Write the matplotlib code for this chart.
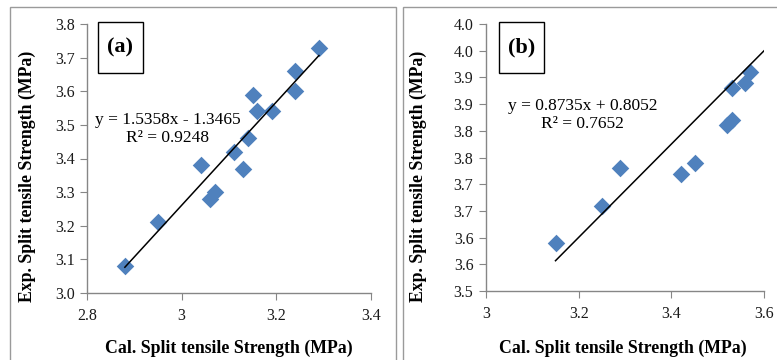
import numpy as np
import matplotlib
matplotlib.use("Agg")
import matplotlib.pyplot as plt
from matplotlib.patches import Rectangle

# ---------------- DATA ----------------
# panel (a)
cal_a = [2.88, 2.95, 3.04, 3.06, 3.07, 3.11, 3.13, 3.14, 3.15, 3.16, 3.19, 3.24, 3.24, 3.29]
exp_a = [3.08, 3.21, 3.38, 3.28, 3.30, 3.42, 3.37, 3.46, 3.59, 3.54, 3.54, 3.66, 3.60, 3.73]
slope_a, icpt_a = 1.5358, -1.3465
eq_a = "y = 1.5358x - 1.3465\nR² = 0.9248"
xticks_a = [2.8, 3.0, 3.2, 3.4]
xtl_a = ["2.8", "3", "3.2", "3.4"]
yticks_a = [3.0, 3.1, 3.2, 3.3, 3.4, 3.5, 3.6, 3.7, 3.8]
ytl_a = ["3.0", "3.1", "3.2", "3.3", "3.4", "3.5", "3.6", "3.7", "3.8"]

# panel (b)
cal_b = [3.15, 3.25, 3.29, 3.42, 3.45, 3.52, 3.53, 3.53, 3.56, 3.57]
exp_b = [3.59, 3.66, 3.73, 3.72, 3.74, 3.81, 3.82, 3.88, 3.89, 3.91]
slope_b, icpt_b = 0.8735, 0.8052
eq_b = "y = 0.8735x + 0.8052\nR² = 0.7652"
fit_x_b = [3.15, 3.6]
xticks_b = [3.0, 3.2, 3.4, 3.6]
xtl_b = ["3", "3.2", "3.4", "3.6"]
yticks_b = [3.50, 3.55, 3.60, 3.65, 3.70, 3.75, 3.80, 3.85, 3.90, 3.95, 4.00]
ytl_b = ["3.5", "3.6", "3.6", "3.7", "3.7", "3.8", "3.8", "3.9", "3.9", "4.0", "4.0"]

# ---------------- STYLE ----------------
plt.rcParams["font.family"] = ["Liberation Serif", "DejaVu Serif"]
W, H = 777, 360
blue = "#4F81BD"
gray = "#868686"

fig = plt.figure(figsize=(W / 100, H / 100), dpi=100)


def fx(px):
    return px / W


def fy(py):
    return 1 - py / H


def panel(rect, cal, exp, slope, icpt, fit_x, xlim, ylim, xt, xtl, yt, ytl,
          eq, eq_pos, tag, tag_box, ylab_x, xlab_x):
    l, t, r, b = rect
    ax = fig.add_axes([fx(l), fy(b), fx(r - l), (b - t) / H])
    ax.scatter(cal, exp, marker="D", s=80, color=blue, zorder=3, linewidths=0)
    fx_ = np.array(fit_x)
    ax.plot(fx_, slope * fx_ + icpt, color="black", lw=1.1, zorder=4)
    ax.set_xlim(*xlim)
    ax.set_ylim(*ylim)
    ax.set_xticks(xt)
    ax.set_xticklabels(xtl)
    ax.set_yticks(yt)
    ax.set_yticklabels(ytl)
    for s in ["top", "right"]:
        ax.spines[s].set_visible(False)
    for s in ["left", "bottom"]:
        ax.spines[s].set_color(gray)
        ax.spines[s].set_linewidth(1.0)
    ax.tick_params(axis="both", direction="out", length=5, color=gray,
                   labelsize=11.5, labelcolor="#1a1a1a")
    ax.tick_params(axis="x", pad=6)
    ax.tick_params(axis="y", pad=4)
    ax.text(eq_pos[0], eq_pos[1], eq, ha="center", va="center",
            multialignment="center", fontsize=12.5, linespacing=1.15)
    # tag box
    bl, bt, br, bb = tag_box
    fig.patches.append(Rectangle((fx(bl), fy(bb)), fx(br - bl), (bb - bt) / H,
                                 transform=fig.transFigure, fill=False,
                                 edgecolor="black", lw=1.0))
    fig.text(fx((bl + br) / 2), fy((bt + bb) / 2), tag, ha="center", va="center",
             fontsize=16, fontweight="bold")
    fig.text(fx(ylab_x), fy(176), "Exp. Split tensile Strength (MPa)",
             rotation=90, ha="center", va="center", fontsize=12.8, fontweight="bold")
    fig.text(fx(xlab_x), fy(348), "Cal. Split tensile Strength (MPa)",
             ha="center", va="center", fontsize=12.8, fontweight="bold")
    return ax


# panel frames
fig.patches.append(Rectangle((fx(10), fy(362)), fx(386), (362 - 7) / H,
                             transform=fig.transFigure, fill=False,
                             edgecolor="#9a9a9a", lw=1.0))
fig.patches.append(Rectangle((fx(403), fy(362)), fx(380), (362 - 7) / H,
                             transform=fig.transFigure, fill=False,
                             edgecolor="#9a9a9a", lw=1.0))

panel((87, 24, 371, 293), cal_a, exp_a, slope_a, icpt_a, [cal_a[0], cal_a[-1]],
      (2.8, 3.4), (3.0, 3.8), xticks_a, xtl_a, yticks_a, ytl_a,
      eq_a, (2.971, 3.488), "(a)", (98, 22, 143, 73), 27, 229)

panel((486, 24, 764, 291), cal_b, exp_b, slope_b, icpt_b, fit_x_b,
      (3.0, 3.6), (3.5, 4.0), xticks_b, xtl_b, yticks_b, ytl_b,
      eq_b, (3.209, 3.830), "(b)", (499, 22, 544, 73), 418, 623)

fig.savefig("out.png", dpi=100)
